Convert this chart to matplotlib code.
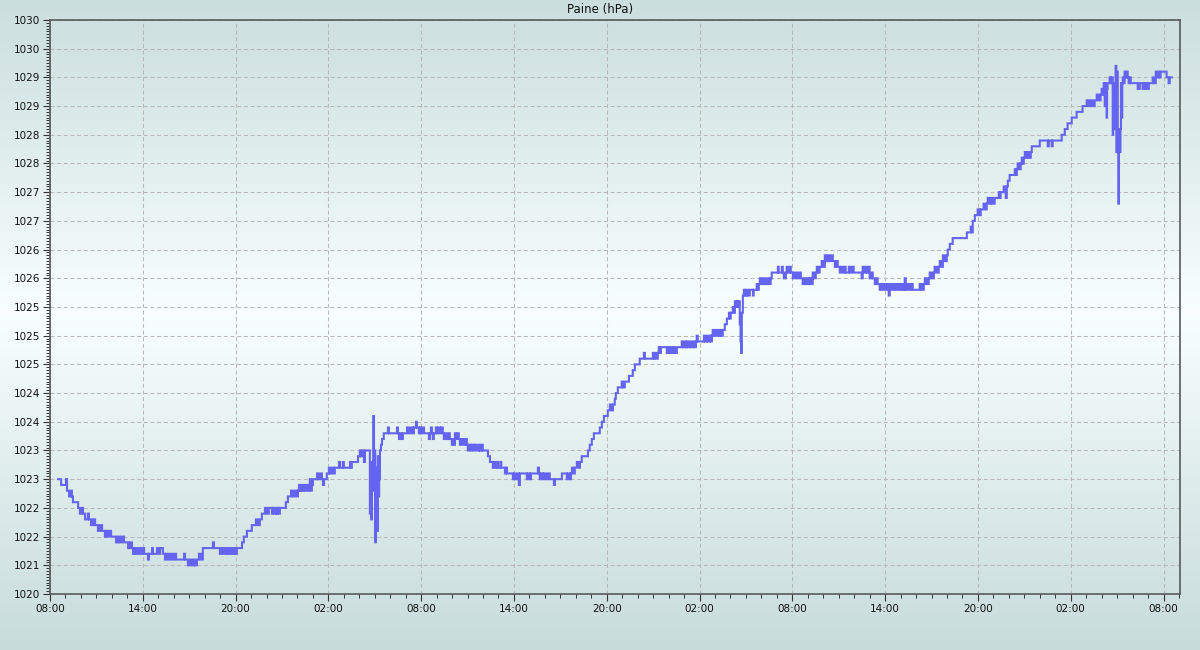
import numpy as np
import pandas as pd
import matplotlib
matplotlib.use("Agg")
import matplotlib.pyplot as plt
import matplotlib.dates as mdates
from matplotlib.ticker import FixedLocator, FixedFormatter, MultipleLocator

title = "Paine (hPa)"
start = pd.Timestamp("2024-01-15 08:00")
x_span_minutes = 4384
y_min, y_max = 1020.0, 1030.0
y_tick_labels = ["1020", "1021", "1022", "1022", "1023", "1023", "1024", "1024",
                 "1025", "1025", "1025", "1026", "1026", "1027", "1027", "1028",
                 "1028", "1029", "1029", "1030", "1030"]

# minutes after the first 08:00
minutes = [
    31, 43, 62, 66, 74, 81, 85, 89, 109, 116, 124, 128, 136, 147, 151, 159, 167, 175, 186, 194,
    202, 213, 217, 221, 229, 237, 256, 264, 271, 279, 287, 303, 310, 318, 322, 330, 337, 345, 353, 361,
    365, 380, 384, 396, 399, 415, 423, 427, 438, 446, 450, 458, 465, 473, 481, 489, 520, 524, 535, 543,
    551, 559, 562, 570, 578, 586, 593, 632, 636, 659, 667, 675, 683, 690, 698, 706, 714, 721, 725, 745,
    752, 764, 783, 799, 807, 814, 822, 834, 842, 849, 861, 865, 869, 877, 880, 884, 888, 892, 915, 923,
    935, 942, 950, 958, 962, 966, 970, 974, 977, 985, 989, 997, 1001, 1005, 1008, 1012, 1016, 1020, 1036, 1039,
    1047, 1055, 1059, 1063, 1074, 1082, 1086, 1094, 1101, 1105, 1121, 1125, 1136, 1140, 1164, 1167, 1171, 1195, 1202, 1206,
    1210, 1218, 1222, 1241, 1244, 1246, 1249, 1252, 1254, 1257, 1259, 1262, 1264, 1267, 1269, 1272, 1275, 1277, 1280, 1284,
    1288, 1295, 1311, 1315, 1346, 1350, 1354, 1357, 1365, 1369, 1385, 1392, 1400, 1408, 1412, 1420, 1423, 1431, 1435, 1439,
    1443, 1451, 1470, 1474, 1478, 1482, 1485, 1489, 1497, 1501, 1505, 1513, 1517, 1524, 1528, 1532, 1540, 1548, 1551, 1559,
    1563, 1567, 1571, 1575, 1579, 1586, 1590, 1594, 1602, 1610, 1617, 1621, 1625, 1633, 1637, 1644, 1648, 1656, 1664, 1668,
    1676, 1679, 1699, 1707, 1718, 1722, 1730, 1734, 1738, 1747, 1751, 1765, 1769, 1773, 1796, 1800, 1807, 1815, 1819, 1823,
    1850, 1854, 1862, 1866, 1893, 1897, 1900, 1904, 1912, 1916, 1924, 1932, 1939, 1955, 1959, 1986, 2005, 2009, 2017, 2021,
    2025, 2032, 2036, 2044, 2052, 2056, 2063, 2087, 2094, 2102, 2110, 2133, 2141, 2149, 2164, 2172, 2180, 2184, 2191, 2195,
    2203, 2218, 2222, 2230, 2246, 2261, 2269, 2288, 2304, 2308, 2339, 2343, 2347, 2354, 2358, 2362, 2366, 2370, 2393, 2397,
    2405, 2409, 2416, 2420, 2424, 2432, 2451, 2455, 2463, 2467, 2471, 2474, 2482, 2486, 2494, 2498, 2506, 2509, 2513, 2537,
    2540, 2548, 2552, 2560, 2564, 2568, 2571, 2575, 2579, 2583, 2591, 2595, 2602, 2606, 2610, 2618, 2626, 2634, 2637, 2641,
    2649, 2653, 2657, 2661, 2665, 2668, 2672, 2676, 2679, 2681, 2684, 2688, 2692, 2696, 2703, 2707, 2715, 2727, 2730, 2742,
    2746, 2750, 2754, 2758, 2765, 2769, 2777, 2781, 2789, 2793, 2796, 2800, 2824, 2827, 2839, 2843, 2847, 2855, 2858, 2862,
    2870, 2874, 2882, 2889, 2897, 2905, 2913, 2920, 2928, 2932, 2940, 2944, 2948, 2952, 2959, 2963, 2971, 2975, 2979, 2986,
    2994, 2998, 3006, 3010, 3017, 3021, 3029, 3037, 3045, 3049, 3056, 3064, 3068, 3076, 3083, 3087, 3099, 3103, 3111, 3118,
    3149, 3153, 3157, 3165, 3169, 3177, 3180, 3188, 3192, 3200, 3208, 3211, 3219, 3227, 3235, 3242, 3250, 3254, 3258, 3266,
    3273, 3281, 3289, 3297, 3305, 3312, 3316, 3320, 3328, 3336, 3343, 3347, 3374, 3382, 3390, 3394, 3401, 3409, 3413, 3421,
    3429, 3432, 3440, 3448, 3452, 3460, 3464, 3471, 3479, 3483, 3491, 3502, 3557, 3572, 3576, 3580, 3588, 3599, 3607, 3611,
    3622, 3630, 3634, 3638, 3646, 3650, 3657, 3665, 3681, 3685, 3688, 3700, 3708, 3712, 3716, 3723, 3743, 3747, 3751, 3754,
    3762, 3766, 3770, 3774, 3778, 3782, 3785, 3793, 3797, 3805, 3809, 3840, 3871, 3875, 3886, 3890, 3925, 3937, 3948, 3964,
    3983, 4006, 4022, 4030, 4038, 4045, 4053, 4061, 4069, 4076, 4080, 4084, 4088, 4092, 4094, 4096, 4099, 4101, 4103, 4111,
    4115, 4119, 4123, 4125, 4128, 4131, 4134, 4137, 4140, 4142, 4145, 4147, 4150, 4153, 4155, 4158, 4160, 4162, 4165, 4169,
    4173, 4177, 4181, 4185, 4189, 4193, 4220, 4228, 4239, 4243, 4247, 4251, 4259, 4263, 4278, 4282, 4290, 4294, 4301, 4305,
    4309, 4332, 4340, 4344, 4352,
]

# pressure, hPa
pressure = [
    1022.0, 1021.9, 1022.0, 1021.8, 1021.7, 1021.8, 1021.7, 1021.6, 1021.5, 1021.4, 1021.5, 1021.4, 1021.3, 1021.4, 1021.3, 1021.2, 1021.3, 1021.2, 1021.1, 1021.2,
    1021.1, 1021.0, 1021.1, 1021.0, 1021.1, 1021.0, 1020.9, 1021.0, 1020.9, 1021.0, 1020.9, 1020.8, 1020.9, 1020.8, 1020.7, 1020.8, 1020.7, 1020.8, 1020.7, 1020.8,
    1020.7, 1020.6, 1020.7, 1020.8, 1020.7, 1020.8, 1020.7, 1020.8, 1020.7, 1020.6, 1020.7, 1020.6, 1020.7, 1020.6, 1020.7, 1020.6, 1020.7, 1020.6, 1020.5, 1020.6,
    1020.5, 1020.6, 1020.5, 1020.6, 1020.7, 1020.6, 1020.8, 1020.9, 1020.8, 1020.7, 1020.8, 1020.7, 1020.8, 1020.7, 1020.8, 1020.7, 1020.8, 1020.7, 1020.8, 1020.9,
    1021.0, 1021.1, 1021.2, 1021.3, 1021.2, 1021.3, 1021.4, 1021.5, 1021.4, 1021.5, 1021.4, 1021.5, 1021.4, 1021.5, 1021.4, 1021.5, 1021.4, 1021.5, 1021.6, 1021.7,
    1021.8, 1021.7, 1021.8, 1021.7, 1021.8, 1021.9, 1021.8, 1021.9, 1021.8, 1021.9, 1021.8, 1021.9, 1021.8, 1021.9, 1022.0, 1021.8, 1021.9, 1022.0, 1022.1, 1022.0,
    1022.1, 1022.0, 1021.9, 1022.0, 1022.1, 1022.2, 1022.1, 1022.2, 1022.1, 1022.2, 1022.3, 1022.2, 1022.3, 1022.2, 1022.3, 1022.2, 1022.3, 1022.4, 1022.5, 1022.4,
    1022.5, 1022.3, 1022.5, 1021.4, 1022.1, 1021.3, 1022.3, 1021.8, 1023.1, 1022.1, 1022.5, 1020.9, 1022.2, 1022.0, 1021.1, 1022.4, 1021.7, 1022.0, 1022.5, 1022.6,
    1022.7, 1022.8, 1022.9, 1022.8, 1022.9, 1022.8, 1022.7, 1022.8, 1022.7, 1022.8, 1022.9, 1022.8, 1022.9, 1022.8, 1022.9, 1023.0, 1022.9, 1022.8, 1022.9, 1022.8,
    1022.9, 1022.8, 1022.7, 1022.8, 1022.9, 1022.8, 1022.7, 1022.8, 1022.9, 1022.8, 1022.9, 1022.8, 1022.9, 1022.8, 1022.7, 1022.8, 1022.7, 1022.8, 1022.7, 1022.6,
    1022.7, 1022.6, 1022.8, 1022.7, 1022.8, 1022.7, 1022.6, 1022.7, 1022.6, 1022.7, 1022.6, 1022.5, 1022.6, 1022.5, 1022.6, 1022.5, 1022.6, 1022.5, 1022.6, 1022.5,
    1022.6, 1022.5, 1022.4, 1022.3, 1022.2, 1022.3, 1022.2, 1022.3, 1022.2, 1022.3, 1022.2, 1022.1, 1022.2, 1022.1, 1022.0, 1022.1, 1022.0, 1022.1, 1021.9, 1022.1,
    1022.0, 1022.1, 1022.0, 1022.1, 1022.2, 1022.1, 1022.0, 1022.1, 1022.0, 1022.1, 1022.0, 1022.1, 1022.0, 1021.9, 1022.0, 1022.1, 1022.0, 1022.1, 1022.0, 1022.1,
    1022.2, 1022.1, 1022.2, 1022.3, 1022.2, 1022.3, 1022.4, 1022.5, 1022.6, 1022.7, 1022.8, 1022.9, 1023.0, 1023.1, 1023.2, 1023.3, 1023.2, 1023.3, 1023.4, 1023.5,
    1023.6, 1023.7, 1023.6, 1023.7, 1023.8, 1023.9, 1024.0, 1024.1, 1024.2, 1024.1, 1024.2, 1024.1, 1024.2, 1024.1, 1024.2, 1024.3, 1024.2, 1024.3, 1024.2, 1024.3,
    1024.2, 1024.3, 1024.2, 1024.3, 1024.2, 1024.3, 1024.4, 1024.3, 1024.4, 1024.3, 1024.4, 1024.3, 1024.4, 1024.3, 1024.4, 1024.3, 1024.4, 1024.5, 1024.4, 1024.5,
    1024.4, 1024.5, 1024.4, 1024.5, 1024.4, 1024.5, 1024.6, 1024.5, 1024.6, 1024.5, 1024.6, 1024.5, 1024.6, 1024.5, 1024.6, 1024.7, 1024.8, 1024.9, 1024.8, 1024.9,
    1025.0, 1024.9, 1025.1, 1025.0, 1025.1, 1025.0, 1025.1, 1024.7, 1024.4, 1024.2, 1024.9, 1025.2, 1025.3, 1025.2, 1025.3, 1025.2, 1025.3, 1025.2, 1025.3, 1025.4,
    1025.3, 1025.4, 1025.5, 1025.4, 1025.5, 1025.4, 1025.5, 1025.4, 1025.5, 1025.4, 1025.5, 1025.6, 1025.7, 1025.6, 1025.7, 1025.6, 1025.5, 1025.6, 1025.7, 1025.6,
    1025.7, 1025.6, 1025.5, 1025.6, 1025.5, 1025.6, 1025.5, 1025.4, 1025.5, 1025.4, 1025.5, 1025.4, 1025.5, 1025.4, 1025.6, 1025.5, 1025.6, 1025.7, 1025.6, 1025.7,
    1025.8, 1025.7, 1025.9, 1025.8, 1025.9, 1025.8, 1025.9, 1025.8, 1025.7, 1025.8, 1025.7, 1025.6, 1025.7, 1025.6, 1025.7, 1025.6, 1025.7, 1025.6, 1025.7, 1025.6,
    1025.5, 1025.7, 1025.6, 1025.7, 1025.6, 1025.7, 1025.5, 1025.6, 1025.5, 1025.4, 1025.5, 1025.4, 1025.3, 1025.4, 1025.3, 1025.4, 1025.3, 1025.2, 1025.4, 1025.3,
    1025.4, 1025.3, 1025.4, 1025.3, 1025.4, 1025.3, 1025.5, 1025.3, 1025.4, 1025.3, 1025.4, 1025.3, 1025.4, 1025.3, 1025.4, 1025.5, 1025.4, 1025.5, 1025.6, 1025.5,
    1025.6, 1025.7, 1025.6, 1025.7, 1025.8, 1025.7, 1025.9, 1025.8, 1025.9, 1026.0, 1026.1, 1026.2, 1026.3, 1026.4, 1026.3, 1026.5, 1026.6, 1026.7, 1026.6, 1026.7,
    1026.8, 1026.7, 1026.8, 1026.9, 1026.8, 1026.9, 1026.8, 1026.9, 1027.0, 1026.9, 1027.0, 1027.1, 1026.9, 1027.1, 1027.2, 1027.3, 1027.4, 1027.3, 1027.4, 1027.5,
    1027.4, 1027.5, 1027.6, 1027.5, 1027.6, 1027.7, 1027.6, 1027.7, 1027.6, 1027.7, 1027.8, 1027.9, 1027.8, 1027.9, 1027.8, 1027.9, 1028.0, 1028.1, 1028.2, 1028.3,
    1028.4, 1028.5, 1028.6, 1028.5, 1028.6, 1028.5, 1028.6, 1028.7, 1028.6, 1028.7, 1028.8, 1028.7, 1028.9, 1028.5, 1028.9, 1028.8, 1028.3, 1028.8, 1028.9, 1029.0,
    1028.9, 1029.0, 1028.0, 1028.9, 1028.1, 1028.3, 1029.2, 1027.7, 1029.1, 1027.7, 1026.8, 1028.1, 1027.7, 1028.1, 1028.9, 1028.3, 1028.9, 1029.0, 1028.9, 1029.1,
    1029.0, 1029.1, 1029.0, 1028.9, 1029.0, 1028.9, 1028.8, 1028.9, 1028.8, 1028.9, 1028.8, 1028.9, 1028.8, 1028.9, 1029.0, 1028.9, 1029.1, 1029.0, 1029.1, 1029.0,
    1029.1, 1029.0, 1028.9, 1029.0, 1029.0,
]

assert len(minutes) == len(pressure), (len(minutes), len(pressure))

times = start + pd.to_timedelta(minutes, unit="min")

W, H, DPI = 1200, 650, 100
fig = plt.figure(figsize=(W / DPI, H / DPI), dpi=DPI)

# vertical gradient background for the whole figure
bg = fig.add_axes([0, 0, 1, 1], zorder=-10)
bg.axis("off")
t = np.linspace(0, 1, H)
edge = np.array([0.788, 0.863, 0.863])
mid = np.array([0.975, 1.0, 1.0])
w = np.clip(1 - np.abs(t - 0.48) / 0.52, 0, 1) ** 1.1
grad = edge[None, :] * (1 - w[:, None]) + mid[None, :] * w[:, None]
bg.imshow(grad[:, None, :], aspect="auto", extent=[0, 1, 0, 1], origin="upper")
bg.set_xlim(0, 1)
bg.set_ylim(0, 1)

left, right, top, bottom = 50, 1180, 20, 594
ax = fig.add_axes([left / W, 1 - bottom / H, (right - left) / W, (bottom - top) / H])
ax.set_facecolor("none")

ax.plot(times, pressure, drawstyle="steps-post", color="#6464f0", lw=1.5,
        solid_joinstyle="miter", zorder=3)

ax.set_xlim(start, start + pd.Timedelta(minutes=x_span_minutes))
ax.set_ylim(y_min, y_max)

ax.xaxis.set_major_locator(mdates.HourLocator(byhour=[2, 8, 14, 20]))
ax.xaxis.set_major_formatter(mdates.DateFormatter("%H:%M"))
ax.xaxis.set_minor_locator(mdates.HourLocator(interval=1))

yt = np.linspace(y_min, y_max, len(y_tick_labels))
ax.yaxis.set_major_locator(FixedLocator(yt))
ax.yaxis.set_major_formatter(FixedFormatter(y_tick_labels))
ax.yaxis.set_minor_locator(MultipleLocator(0.05))

ax.grid(True, which="major", color="#b8b8b8", linestyle=(0, (3.8, 2.6)), linewidth=0.75)
ax.set_axisbelow(True)

ax.tick_params(axis="both", which="major", length=5, width=0.8, color="#333333",
               labelsize=7.5, labelcolor="#111111", pad=2)
ax.tick_params(axis="both", which="minor", length=3, width=0.7, color="#333333")

for s in ax.spines.values():
    s.set_color("#5a5a5a")
    s.set_linewidth(1.2)

fig.text(0.5, 1 - 10 / H, title, ha="center", va="center", fontsize=8.5, color="#111111")

fig.savefig("out.png", dpi=DPI)
